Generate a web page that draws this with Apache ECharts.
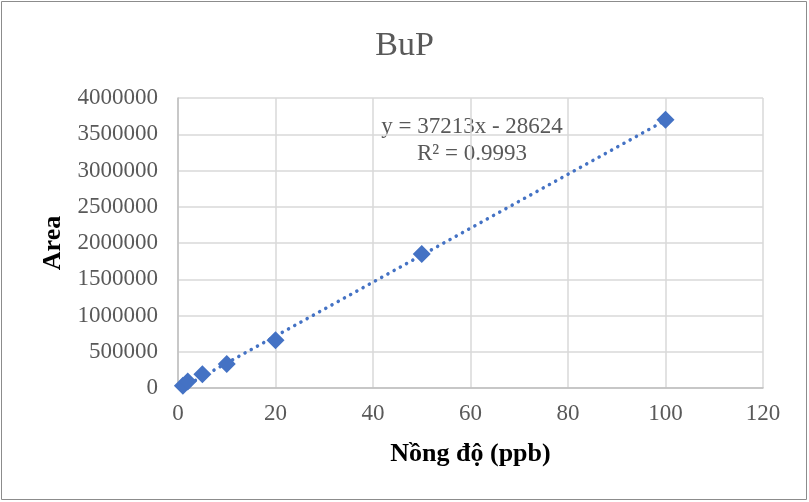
<!DOCTYPE html>
<html>
<head>
<meta charset="utf-8">
<script src="https://cdn.jsdelivr.net/npm/echarts@6/dist/echarts.min.js"></script>
<style>
  html, body { margin: 0; padding: 0; background: #fff; }
  #chart { width: 809px; height: 502px; }
</style>
</head>
<body>
<div id="chart"></div>
<script>
// Calibration standards: concentration (ppb) vs. peak area
const concentrations = [1, 2, 5, 10, 20, 50, 100];
const areas = [30000, 90000, 190000, 330000, 660000, 1850000, 3700000];

// Linear trendline coefficients (y = slope * x + intercept)
const slope = 37213;
const intercept = -28624;
const rSquared = '0.9993';
const trendX = [1, 100];

const xTicks = { min: 0, max: 120, interval: 20 };
const yTicks = { min: 0, max: 4000000, interval: 500000 };

const FONT = "'Liberation Serif', 'Times New Roman', serif";
const BLUE = '#4472C4';
const TEXT = '#595959';

const points = concentrations.map((x, i) => [x, areas[i]]);
const trend = trendX.map(x => [x, slope * x + intercept]);

const chart = echarts.init(document.getElementById('chart'));
chart.setOption({
  animation: false,
  backgroundColor: '#fff',
  title: {
    text: 'BuP',
    left: 'center',
    top: 24,
    textStyle: { fontFamily: FONT, fontSize: 34, fontWeight: 'normal', color: TEXT }
  },
  grid: { left: 178, right: 46, top: 98, bottom: 114 },
  xAxis: {
    type: 'value',
    min: xTicks.min, max: xTicks.max, interval: xTicks.interval,
    name: 'Nồng độ (ppb)',
    nameLocation: 'middle',
    nameGap: 53,
    nameTextStyle: { fontFamily: FONT, fontSize: 26, fontWeight: 'bold', color: '#000' },
    axisLine: { show: true, lineStyle: { color: '#bfbfbf', width: 1.5 } },
    axisTick: { show: false },
    splitLine: { show: true, lineStyle: { color: '#d9d9d9', width: 1.5 } },
    axisLabel: { fontFamily: FONT, fontSize: 23, color: TEXT, margin: 14 }
  },
  yAxis: {
    type: 'value',
    min: yTicks.min, max: yTicks.max, interval: yTicks.interval,
    name: 'Area',
    nameLocation: 'middle',
    nameGap: 108,
    nameRotate: 90,
    nameTextStyle: { fontFamily: FONT, fontSize: 26, fontWeight: 'bold', color: '#000' },
    axisLine: { show: true, lineStyle: { color: '#bfbfbf', width: 1.5 } },
    axisTick: { show: false },
    splitLine: { show: true, lineStyle: { color: '#d9d9d9', width: 1.5 } },
    axisLabel: { fontFamily: FONT, fontSize: 23, color: TEXT, margin: 20, formatter: v => String(v) }
  },
  graphic: [
    {
      type: 'rect',
      shape: { x: 1.5, y: 1.5, width: 805, height: 498 },
      style: { fill: 'none', stroke: '#8c8c8c', lineWidth: 1 },
      silent: true
    },
    {
      type: 'text',
      x: 472, y: 113,
      style: {
        text: 'y = ' + slope + 'x - ' + Math.abs(intercept) + '\nR² = ' + rSquared,
        fontFamily: FONT, fontSize: 23, fill: TEXT,
        align: 'center', lineHeight: 27
      }
    }
  ],
  series: [
    {
      type: 'line',
      data: trend,
      symbol: 'none',
      lineStyle: { color: BLUE, width: 3.5, type: [0.1, 7], cap: 'round' },
      z: 2
    },
    {
      type: 'scatter',
      data: points,
      symbol: 'diamond',
      symbolSize: 18,
      itemStyle: { color: BLUE, opacity: 1 },
      z: 3
    }
  ]
});
</script>
</body>
</html>
